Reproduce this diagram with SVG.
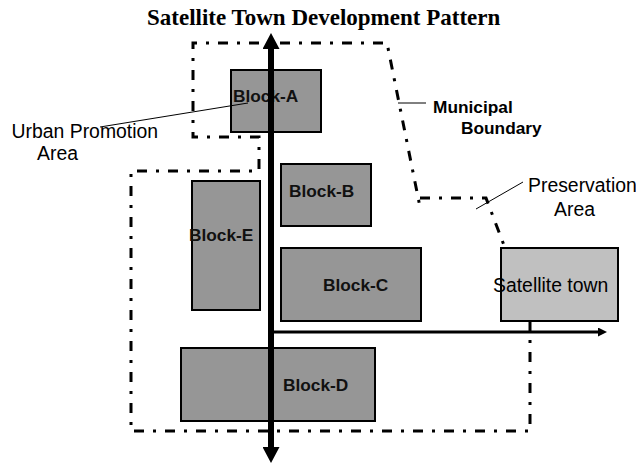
<svg xmlns="http://www.w3.org/2000/svg" width="636" height="463" viewBox="0 0 636 463">
<style>
.title{font-family:"Liberation Serif","Times New Roman",serif;font-weight:bold;font-size:23px;fill:#000}
.blk{fill:#969696;stroke:#000;stroke-width:2}
.sat{fill:#c0c0c0;stroke:#000;stroke-width:2}
.bl{font-family:"Liberation Sans",Arial,sans-serif;font-weight:bold;font-size:17.3px;fill:#111}
.lab{font-family:"Liberation Sans",Arial,sans-serif;font-size:19.4px;fill:#000}
.labb{font-family:"Liberation Sans",Arial,sans-serif;font-weight:bold;font-size:17.3px;fill:#000}
.bnd{fill:none;stroke:#000;stroke-width:3;stroke-dasharray:10 9 3 9}
.leader{fill:none;stroke:#000;stroke-width:1}
.axis{fill:none;stroke:#000;stroke-width:6}
.axis2{fill:none;stroke:#000;stroke-width:3}
</style>
<defs>
<marker id="bigHead" viewBox="0 0 16 17" refX="0" refY="8.5" markerWidth="16" markerHeight="17" markerUnits="userSpaceOnUse" orient="auto-start-reverse">
<path d="M0,0 L16,8.5 L0,17 Z" fill="#000"/>
</marker>
<marker id="smallHead" viewBox="0 0 9 9" refX="0" refY="4.5" markerWidth="9" markerHeight="9" markerUnits="userSpaceOnUse" orient="auto">
<path d="M0,0 L9,4.5 L0,9 Z" fill="#000"/>
</marker>
</defs>
<rect width="636" height="463" fill="#fff"/>
<text class="title" x="147" y="25">Satellite Town Development Pattern</text>
<g id="boundary">
<path class="bnd" d="M530,321 L530,431 L131,431 L131,171 L259,171 L259,137 L193,137 L193,43 L387,43 L420,207 M420,198 L486,198 L505,248"/>
</g>
<g id="block-a"><rect class="blk" x="231" y="70" width="90" height="62"/><text class="bl" x="233" y="102">Block-A</text></g>
<g id="block-b"><rect class="blk" x="281" y="164" width="90" height="62"/><text class="bl" x="289" y="197">Block-B</text></g>
<g id="block-e"><rect class="blk" x="192" y="181" width="68" height="129"/><text class="bl" x="189" y="241">Block-E</text></g>
<g id="block-c"><rect class="blk" x="281" y="248" width="140" height="73"/><text class="bl" x="323" y="291">Block-C</text></g>
<g id="block-d"><rect class="blk" x="181" y="348" width="194" height="73"/><text class="bl" x="283" y="391">Block-D</text></g>
<g id="satellite-town"><rect class="sat" x="501" y="248" width="117" height="73"/><text class="lab" x="493" y="292">Satellite town</text></g>
<g id="connectors">
<line class="axis" x1="271" y1="49" x2="271" y2="447" marker-start="url(#bigHead)" marker-end="url(#bigHead)"/>
<line class="axis2" x1="273" y1="332" x2="598" y2="332" marker-end="url(#smallHead)"/>
<line class="leader" x1="100" y1="127" x2="248" y2="103"/>
<line class="leader" x1="398" y1="103" x2="426" y2="103"/>
<line class="leader" x1="476" y1="209" x2="523" y2="182"/>
</g>
<g id="label-urban">
<text class="lab" x="11.5" y="138">Urban Promotion</text>
<text class="lab" x="37" y="160">Area</text>
</g>
<g id="label-municipal">
<text class="labb" x="433" y="113">Municipal</text>
<text class="labb" x="461" y="134">Boundary</text>
</g>
<g id="label-preservation">
<text class="lab" x="528" y="192">Preservation</text>
<text class="lab" x="554" y="216">Area</text>
</g>
</svg>
